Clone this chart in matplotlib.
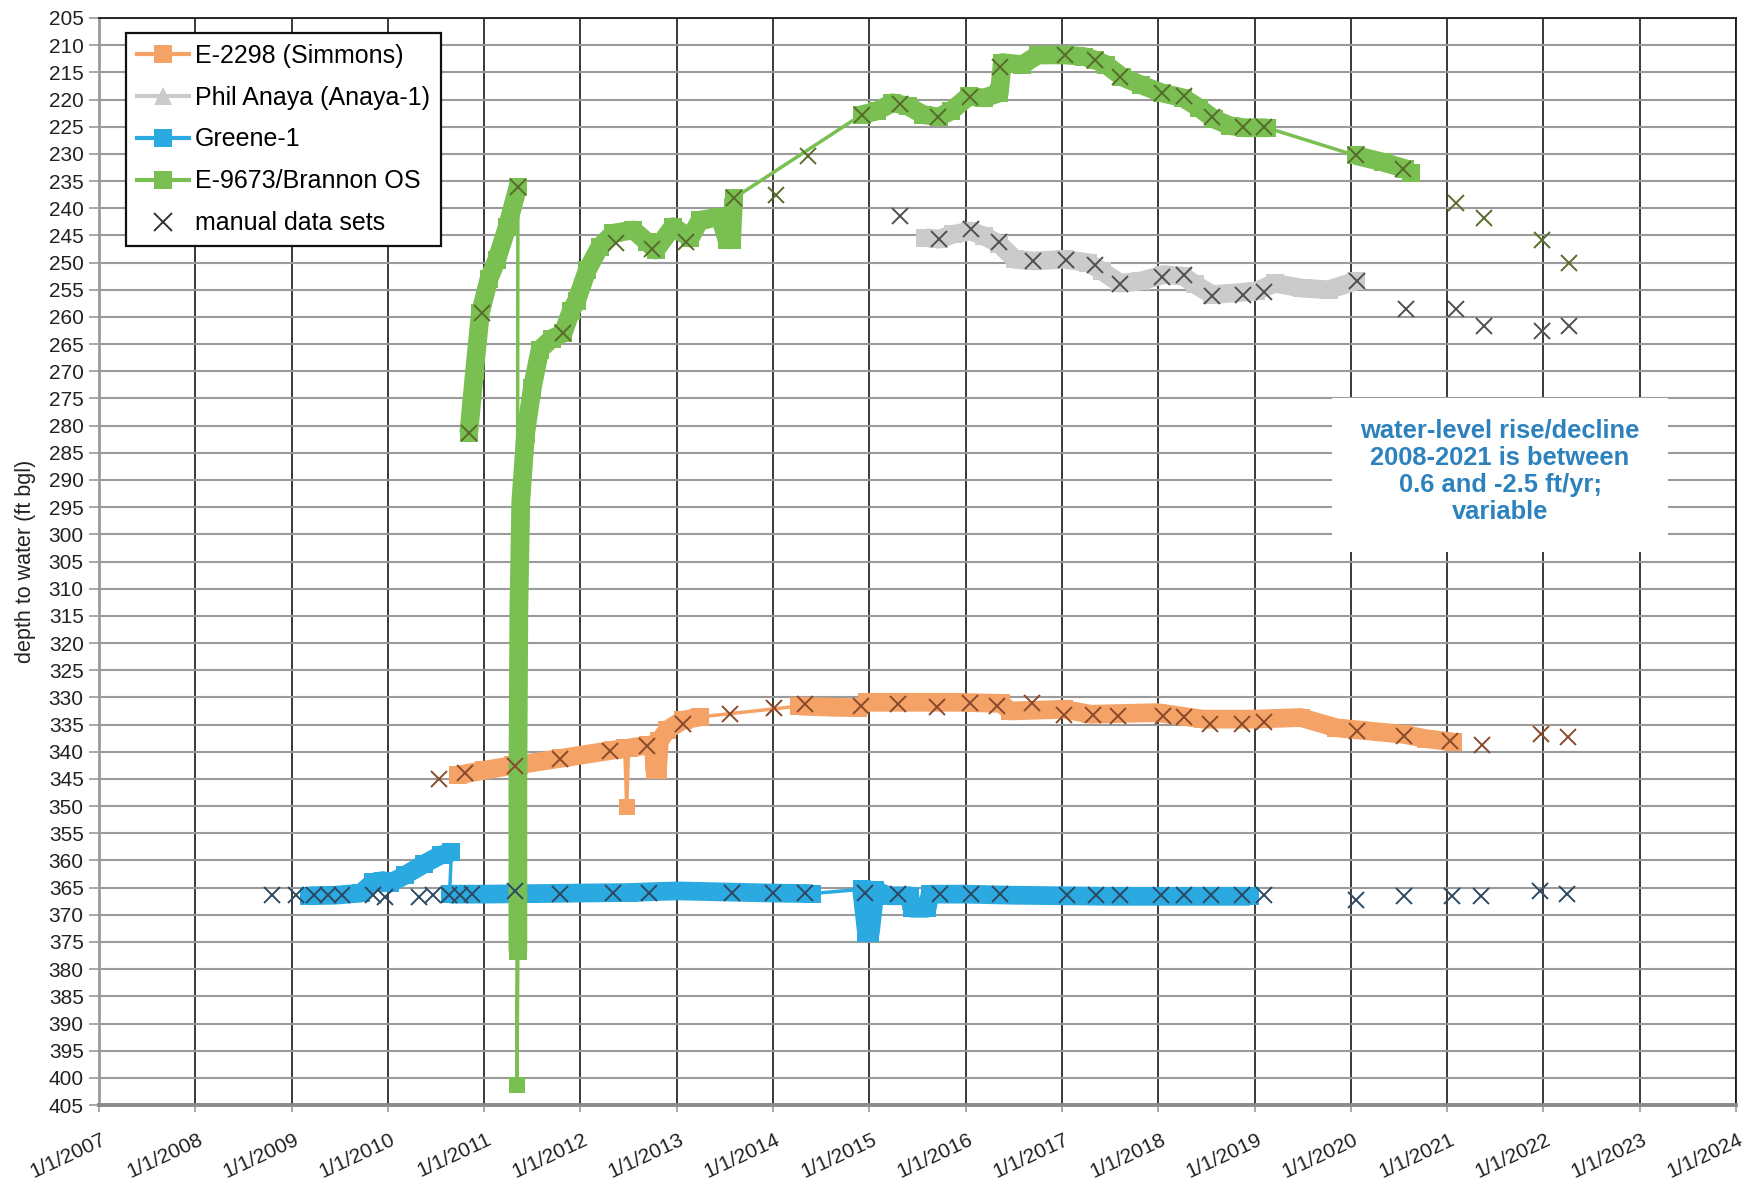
import matplotlib
matplotlib.use("Agg")
import matplotlib.pyplot as plt
import matplotlib.transforms as mtransforms
from matplotlib.lines import Line2D
from matplotlib.patches import Rectangle

plt.rcParams["font.family"] = ["Liberation Sans", "DejaVu Sans"]

# ---------------------------------------------------------------------------
# Water-level records (decimal year, depth to water in ft bgl)
# Transducer records are split into runs of dense logging; single outlier
# readings are kept apart so they plot as isolated squares.
# ---------------------------------------------------------------------------

# E-2298 (Simmons)
simmons_run1_yr = [2010.73, 2011.00, 2011.30]
simmons_run1_ft = [344.3, 343.4, 342.5]
simmons_out1_yr, simmons_out1_ft = [2011.34], [350.0]
simmons_run2_yr = [2011.36, 2011.80, 2012.34, 2012.46]
simmons_run2_ft = [342.4, 341.2, 339.7, 339.4]
simmons_out2_yr, simmons_out2_ft = [2012.48], [350.2]
simmons_run3_yr = [2012.50, 2012.70, 2012.76, 2012.77, 2012.80, 2012.82, 2012.90, 2013.06, 2013.24]
simmons_run3_ft = [339.3, 338.8, 338.7, 343.3, 343.3, 338.0, 336.0, 334.2, 333.6]
simmons_run4_yr = [2014.27, 2014.60, 2014.88, 2014.98, 2015.50, 2015.90, 2016.37, 2016.46, 2017.02,
                   2017.30, 2017.99, 2018.46, 2019.01, 2019.48, 2019.85, 2020.55, 2020.78, 2021.06]
simmons_run4_ft = [331.6, 331.8, 331.9, 330.9, 330.9, 330.9, 331.1, 332.5, 332.2,
                   333.1, 332.8, 334.0, 334.0, 333.7, 335.6, 336.8, 337.6, 338.2]
simmons_manual_yr = [2010.53, 2010.80, 2011.32, 2011.79, 2012.31, 2012.69, 2013.06, 2013.55, 2014.01,
                     2014.33, 2014.91, 2015.30, 2015.70, 2016.04, 2016.33, 2016.69, 2017.02, 2017.32,
                     2017.58, 2018.05, 2018.27, 2018.54, 2018.87, 2019.10, 2020.06, 2020.55, 2021.03,
                     2021.36, 2021.97, 2022.25]
simmons_manual_ft = [345.0, 343.9, 342.7, 341.3, 339.8, 339.0, 334.9, 333.1, 332.0,
                     331.2, 331.5, 331.2, 331.7, 331.1, 331.5, 331.1, 333.2, 333.2,
                     333.4, 333.4, 333.6, 334.9, 334.9, 334.6, 336.2, 337.1, 338.0,
                     338.8, 336.8, 337.2]

# Phil Anaya (Anaya-1)
anaya_run1_yr = [2015.58, 2015.72, 2015.87, 2016.05, 2016.19, 2016.35, 2016.51, 2016.71, 2017.03,
                 2017.27, 2017.42, 2017.60, 2017.82, 2018.06, 2018.26, 2018.38, 2018.56, 2018.78,
                 2019.01, 2019.21, 2019.49, 2019.77, 2020.05]
anaya_run1_ft = [245.4, 245.7, 244.8, 244.2, 245.1, 246.6, 249.4, 249.7, 249.4,
                 250.0, 251.6, 253.8, 253.4, 252.2, 252.5, 254.0, 255.9, 255.6,
                 255.3, 253.8, 254.7, 255.0, 253.4]
anaya_manual_yr = [2015.32, 2015.72, 2016.06, 2016.35, 2016.70, 2017.04, 2017.34, 2017.60, 2018.04,
                   2018.27, 2018.56, 2018.88, 2019.10, 2020.06, 2020.57, 2021.09, 2021.38, 2021.98,
                   2022.27]
anaya_manual_ft = [241.4, 245.7, 243.8, 246.3, 249.7, 249.6, 250.5, 253.9, 252.7,
                   252.3, 256.2, 255.9, 255.4, 253.4, 258.6, 258.6, 261.7, 262.5,
                   261.7]

# Greene-1
greene_run1_yr = [2009.18, 2009.45, 2009.72, 2009.85, 2009.95, 2010.02, 2010.18, 2010.38, 2010.55, 2010.66]
greene_run1_ft = [366.5, 366.4, 366.0, 364.0, 363.7, 364.2, 362.7, 360.6, 359.0, 358.5]
greene_run2_yr = [2010.64, 2011.00, 2011.50, 2012.00, 2012.50, 2013.00, 2013.50, 2014.00, 2014.40]
greene_run2_ft = [366.2, 366.2, 366.1, 366.0, 365.9, 365.6, 365.8, 366.0, 366.1]
greene_run3_yr = [2014.92, 2014.97, 2015.01, 2015.06, 2015.20, 2015.42, 2015.44, 2015.60, 2015.63,
                  2016.00, 2016.50, 2017.00, 2017.50, 2018.00, 2018.50, 2018.95]
greene_run3_ft = [365.3, 373.3, 373.3, 365.5, 366.5, 366.5, 368.8, 368.8, 366.2,
                  366.2, 366.4, 366.5, 366.6, 366.6, 366.6, 366.6]
greene_manual_yr = [2008.80, 2009.05, 2009.23, 2009.38, 2009.52, 2009.85, 2009.97, 2010.32, 2010.47,
                    2010.63, 2010.75, 2010.87, 2011.32, 2011.79, 2012.34, 2012.71, 2013.57, 2014.00,
                    2014.33, 2014.95, 2015.30, 2015.73, 2016.06, 2016.36, 2017.05, 2017.35, 2017.60,
                    2018.03, 2018.27, 2018.55, 2018.87, 2019.10, 2020.05, 2020.55, 2021.05, 2021.35,
                    2021.96, 2022.24]
greene_manual_ft = [366.4, 366.4, 366.4, 366.4, 366.4, 366.4, 366.8, 366.7, 366.4,
                    366.4, 366.3, 366.2, 365.7, 366.1, 366.0, 366.0, 366.0, 366.0,
                    366.0, 366.0, 366.1, 366.1, 366.1, 366.1, 366.3, 366.3, 366.3,
                    366.3, 366.3, 366.3, 366.4, 366.4, 367.2, 366.5, 366.5, 366.5,
                    365.7, 366.1]

# E-9673/Brannon OS
brannon_run1_yr = [2010.84, 2010.90, 2010.96, 2011.05, 2011.13, 2011.24, 2011.35]
brannon_run1_ft = [281.4, 270.0, 259.3, 253.0, 249.5, 243.4, 236.1]
brannon_out1_yr, brannon_out1_ft = [2011.34], [401.3]
brannon_run2_yr = [2011.35, 2011.35, 2011.36, 2011.38, 2011.43, 2011.50, 2011.58, 2011.70, 2011.82,
                   2011.90, 2011.96, 2012.07, 2012.20, 2012.34, 2012.55, 2012.69, 2012.78, 2012.96,
                   2013.14, 2013.24, 2013.45, 2013.52, 2013.57, 2013.59]
brannon_run2_ft = [376.7, 345.0, 314.0, 294.0, 281.5, 273.0, 266.0, 264.0, 263.0,
                   259.0, 257.0, 251.4, 247.1, 244.6, 244.0, 246.2, 247.7, 243.4,
                   245.5, 242.2, 241.6, 245.8, 245.8, 238.2]
brannon_run3_yr = [2014.92, 2015.08, 2015.24, 2015.40, 2015.56, 2015.72, 2015.85, 2016.03, 2016.19,
                   2016.35, 2016.38, 2016.59, 2016.75, 2017.03, 2017.23, 2017.34, 2017.46, 2017.62,
                   2017.82, 2018.04, 2018.26, 2018.42, 2018.58, 2018.74, 2018.90, 2019.13]
brannon_run3_ft = [222.8, 222.1, 220.6, 221.2, 222.8, 223.2, 222.1, 219.4, 219.7,
                   218.8, 213.2, 213.6, 211.8, 211.8, 212.1, 212.7, 213.6, 215.8,
                   217.3, 218.8, 219.7, 221.5, 223.6, 224.8, 225.2, 225.2]
brannon_run4_yr = [2020.05, 2020.33, 2020.56, 2020.62]
brannon_run4_ft = [230.3, 231.5, 232.7, 233.6]
brannon_manual_yr = [2010.84, 2010.98, 2011.35, 2011.82, 2012.37, 2012.74, 2013.10, 2013.59, 2014.03,
                     2014.36, 2014.92, 2015.32, 2015.71, 2016.05, 2016.36, 2017.03, 2017.34, 2017.60,
                     2018.04, 2018.27, 2018.56, 2018.88, 2019.10, 2020.05, 2020.54, 2021.09, 2021.38,
                     2021.99, 2022.27]
brannon_manual_ft = [281.4, 259.3, 236.1, 263.0, 246.4, 247.5, 246.2, 238.1, 237.6,
                     230.4, 222.8, 220.8, 223.2, 219.6, 214.1, 211.9, 212.7, 215.9,
                     218.8, 219.3, 223.3, 225.0, 225.0, 230.3, 232.7, 239.1, 241.8,
                     245.9, 250.0]

YEARS = list(range(2007, 2025))
YEAR_LABELS = [f"1/1/{y}" for y in YEARS]
DEPTH_TICKS = list(range(205, 406, 5))

NOTE = "water-level rise/decline\n2008-2021 is between\n0.6 and -2.5 ft/yr;\nvariable"

# ---------------------------------------------------------------------------
# Styling
# ---------------------------------------------------------------------------
BAND = 13.5   # width of dense logger runs (points)
THIN = 2.5
WELLS = [
    # label, colour, manual-mark colour, pieces (runs and outliers, in time order), legend marker
    ("E-2298 (Simmons)", "#f5a266", "#8a4b2c",
     [("run", simmons_run1_yr, simmons_run1_ft), ("out", simmons_out1_yr, simmons_out1_ft),
      ("run", simmons_run2_yr, simmons_run2_ft), ("out", simmons_out2_yr, simmons_out2_ft),
      ("run", simmons_run3_yr, simmons_run3_ft), ("run", simmons_run4_yr, simmons_run4_ft)],
     simmons_manual_yr, simmons_manual_ft, "s"),
    ("Phil Anaya (Anaya-1)", "#cbcbcb", "#505050",
     [("run", anaya_run1_yr, anaya_run1_ft)],
     anaya_manual_yr, anaya_manual_ft, "^"),
    ("Greene-1", "#2ba9e1", "#2e4a63",
     [("run", greene_run1_yr, greene_run1_ft), ("run", greene_run2_yr, greene_run2_ft),
      ("run", greene_run3_yr, greene_run3_ft)],
     greene_manual_yr, greene_manual_ft, "s"),
    ("E-9673/Brannon OS", "#79bf52", "#596c2c",
     [("run", brannon_run1_yr, brannon_run1_ft), ("out", brannon_out1_yr, brannon_out1_ft),
      ("run", brannon_run2_yr, brannon_run2_ft), ("run", brannon_run3_yr, brannon_run3_ft),
      ("run", brannon_run4_yr, brannon_run4_ft)],
     brannon_manual_yr, brannon_manual_ft, "s"),
]

fig = plt.figure(figsize=(17.43, 11.83), dpi=100)
ax = fig.add_axes([0.0568, 0.0659, 0.9392, 0.9189])

ax.set_xlim(2007, 2024)
ax.set_ylim(405, 205)
ax.set_xticks(YEARS)
ax.set_xticklabels(YEAR_LABELS, rotation=25, ha="right", va="top", rotation_mode="anchor",
                   fontsize=15, color="#222222")
ax.set_yticks(DEPTH_TICKS)
ax.tick_params(axis="y", labelsize=15, labelcolor="#222222", length=7, width=1.2,
               color="#999999", pad=4)
ax.tick_params(axis="x", length=5, width=1.2, color="#999999", pad=13)
# nudge the slanted date labels so their upper end sits at the tick
shift = mtransforms.ScaledTranslation(2 / 100, 0, fig.dpi_scale_trans)
for lab in ax.get_xticklabels():
    lab.set_transform(lab.get_transform() + shift)
ax.set_ylabel("depth to water (ft bgl)", fontsize=15.5, color="#222222", labelpad=9)

ax.grid(axis="x", color="#2a2a2a", linewidth=1.3)
ax.grid(axis="y", color="#9a9a9a", linewidth=1.5)
ax.set_axisbelow(True)
for side in ("top", "right"):
    ax.spines[side].set_color("#1a1a1a")
    ax.spines[side].set_linewidth(1.3)
ax.spines["left"].set_color("#9a9a9a")
ax.spines["left"].set_linewidth(2.0)
ax.spines["bottom"].set_color("#8a8a8a")
ax.spines["bottom"].set_linewidth(2.8)

handles = []
for z, (label, colour, mark_colour, pieces, man_yr, man_ft, lmarker) in enumerate(WELLS):
    base = 3 + z
    # thin connector through every reading, in record order
    all_yr = [v for _, yrs, _ in pieces for v in yrs]
    all_ft = [v for _, _, fts in pieces for v in fts]
    ax.plot(all_yr, all_ft, color=colour, linewidth=THIN, zorder=base, solid_capstyle="butt")
    for kind, yrs, fts in pieces:
        if kind == "run":
            ax.plot(yrs, fts, color=colour, linewidth=BAND, marker="s", markersize=BAND,
                    markeredgewidth=0, solid_joinstyle="round", solid_capstyle="butt",
                    zorder=base)
        else:
            ax.plot(yrs, fts, linestyle="none", marker="s", markersize=11,
                    markeredgewidth=0, color=colour, zorder=base)
    ax.plot(man_yr, man_ft, linestyle="none", marker="x", markersize=11,
            markeredgewidth=1.4, color=mark_colour, zorder=10)
    handles.append(Line2D([], [], color=colour, linewidth=3, marker=lmarker,
                          markersize=13, markeredgewidth=0, label=label))

handles.append(Line2D([], [], linestyle="none", marker="x", markersize=13,
                      markeredgewidth=1.4, color="#333333", label="manual data sets"))

leg = ax.legend(handles=handles, loc="upper left", bbox_to_anchor=(126 / 1743, 1 - 33 / 1183),
                bbox_transform=fig.transFigure, borderaxespad=0, fontsize=18,
                frameon=True, fancybox=False, edgecolor="#111111", framealpha=1,
                handlelength=2.1, handletextpad=0.25, labelspacing=0.72, borderpad=0.42)
leg.get_frame().set_linewidth(1.6)
leg.set_zorder(20)

# note box, blanking the grid behind it
ax.add_patch(Rectangle((2019.80, 274.9), 3.49, 28.4, facecolor="white", edgecolor="none",
                       zorder=15))
ax.text(2021.55, 288.4, NOTE, ha="center", va="center", fontsize=18.4, fontweight="bold",
        color="#2d82be", linespacing=1.17, zorder=16)

fig.savefig("out.png", dpi=100)
